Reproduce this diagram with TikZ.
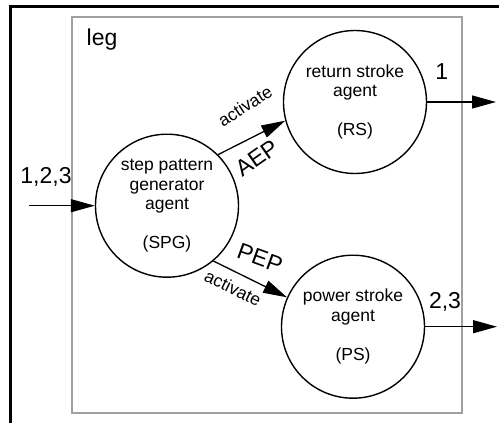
\documentclass[tikz,border=0pt]{standalone}
\usepackage{fontspec}
\setmainfont{Liberation Sans}
\usetikzlibrary{arrows.meta}
\definecolor{boxgray}{RGB}{160,160,160}
\begin{document}
\begin{tikzpicture}[x=1pt,y=-1pt,
  agent/.style={circle,draw,line width=1.4pt,minimum size=143pt,inner sep=0pt,
    align=center,font=\fontsize{17.5}{19.5}\selectfont},
  flow/.style={line width=1.3pt,-{Triangle[length=24pt,width=13pt]}},
  biglabel/.style={font=\fontsize{23}{27}\selectfont,inner sep=0pt},
  smalllabel/.style={font=\fontsize{17.5}{20}\selectfont,inner sep=0pt}]
\useasboundingbox (0,0) rectangle (499,423);

% outer frame (top and left edges)
\draw[line width=3pt] (10.5,423) -- (10.5,6) -- (499,6);
% leg boundary
\draw[boxgray,line width=2pt] (72,17) rectangle (461.5,413);
\node[biglabel] (leg) at (102,40) {leg};

% agents
\node[agent] (spg) at (167,205.7) {step pattern\\generator\\agent\\[19.5pt](SPG)};
\node[agent] (rs)  at (355,102)   {return stroke\\agent\\[19.5pt](RS)};
\node[agent] (ps)  at (353,326.7) {power stroke\\agent\\[19.5pt](PS)};

% external ends
\coordinate (in)   at (29.3,205.7);
\coordinate (out1) at (496,102);
\coordinate (out2) at (497,326.7);

% connectors
\draw[flow] (in) -- (spg.west);
\draw[flow] (spg.45) -- (rs.195);
\draw[flow] (spg.310) -- (ps.156);
\draw[flow] (rs.east) -- (out1);
\draw[flow] (ps.east) -- (out2);

% labels
\node[biglabel] (lin) at (46,176.7) {1,2,3};
\node[biglabel] (l1) at (441.7,71.7) {1};
\node[biglabel] (l23) at (445,301.7) {2,3};
\node[biglabel,rotate=35] (aep) at (256.7,158) {AEP};
\node[biglabel,rotate=-20] (pep) at (260,258) {PEP};
\node[smalllabel,rotate=33] (act1) at (245,106) {activate};
\node[smalllabel,rotate=-26] (act2) at (233,288) {activate};
\end{tikzpicture}
\end{document}
